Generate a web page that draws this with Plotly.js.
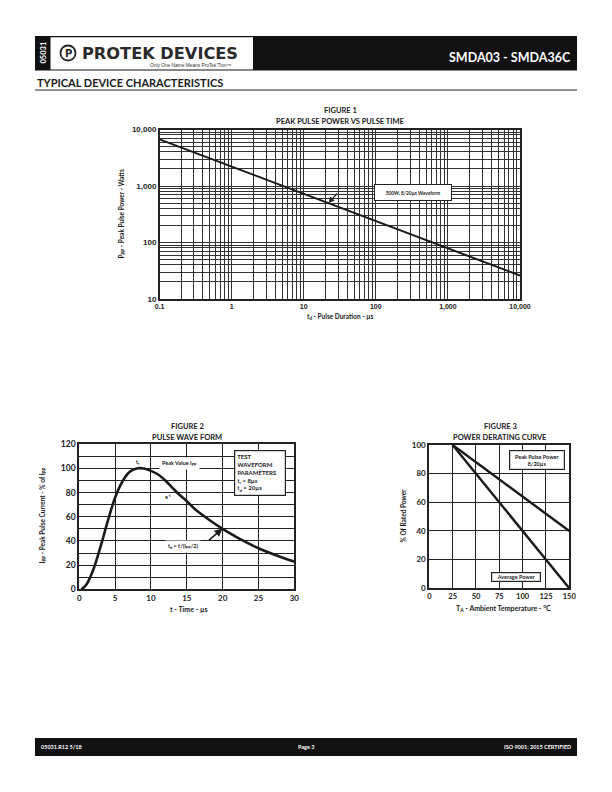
<!DOCTYPE html>
<html>
<head>
<meta charset="utf-8">
<script src="https://cdn.plot.ly/plotly-3.0.1.min.js"></script>
<style>
html,body{margin:0;padding:0;background:#fff;}
#chart{width:612px;height:792px;}
</style>
</head>
<body>
<div id="chart"></div>
<script>
// ---------- DATA ----------
// Figure 1: Peak pulse power vs pulse time
const f1Duration = [0.1, 10000];          // µs
const f1Power = [6700, 26];               // W
const f1Decades = [0.1, 1, 10, 100, 1000, 10000];
const f1DecadeLabels = ['0.1', '1', '10', '100', '1,000', '10,000'];
const f1PowerDecades = [10, 100, 1000, 10000];
const f1PowerLabels = ['10', '100', '1,000', '10,000'];

// Figure 2: Pulse wave form (8/20 µs)
const f2Time = [0.3, 1, 2, 3, 4, 5, 6, 7, 8, 9, 10, 11, 12, 13, 14, 15, 16, 18, 20, 22, 25, 28, 30];
const f2Current = [0, 4, 17, 36, 57, 76, 89, 97, 100, 100, 98, 95, 90, 84, 78, 73, 67, 58, 50, 43, 34, 27, 23];
const f2XTicks = [0, 5, 10, 15, 20, 25, 30];
const f2YTicks = [0, 20, 40, 60, 80, 100, 120];

// Figure 3: Power derating curve
const f3TempA = [25, 150];
const f3PctA = [100, 0];
const f3TempB = [25, 150];
const f3PctB = [100, 40];
const f3XTicks = [0, 25, 50, 75, 100, 125, 150];
const f3YTicks = [0, 20, 40, 60, 80, 100];

// ---------- helpers ----------
const W = 612, H = 792;
const px = x => x / W;
const py = y => 1 - y / H;

const BF = 'Lato, "Open Sans", sans-serif';
const F1F = '"Liberation Sans", Arial, sans-serif';

const traces = [
  {x: f1Duration, y: f1Power, xaxis: 'x', yaxis: 'y', mode: 'lines',
   line: {color: '#1a1a1a', width: 2}, hoverinfo: 'skip'},
  {x: f2Time, y: f2Current, xaxis: 'x2', yaxis: 'y2', mode: 'lines',
   line: {color: '#1a1a1a', width: 2.6, shape: 'spline', smoothing: 1}, hoverinfo: 'skip'},
  {x: f3TempA, y: f3PctA, xaxis: 'x3', yaxis: 'y3', mode: 'lines',
   line: {color: '#1a1a1a', width: 2.4}, hoverinfo: 'skip'},
  {x: f3TempB, y: f3PctB, xaxis: 'x3', yaxis: 'y3', mode: 'lines',
   line: {color: '#1a1a1a', width: 2.4}, hoverinfo: 'skip'}
];

const baseAxis = {
  showgrid: true, zeroline: false, showline: true, mirror: true,
  ticks: '', fixedrange: true
};

const layout = {
  width: W, height: H,
  margin: {l: 0, r: 0, t: 0, b: 0},
  paper_bgcolor: '#fff', plot_bgcolor: '#fff',
  showlegend: false,
  xaxis: Object.assign({}, baseAxis, {
    domain: [px(159.5), px(520)], anchor: 'y', type: 'log', range: [-1, 4],
    tickmode: 'array', tickvals: f1Decades, ticktext: f1DecadeLabels,
    gridcolor: '#333', gridwidth: 1, linecolor: '#222', linewidth: 1.5,
    minor: {dtick: 'D1', showgrid: true, gridcolor: '#333', gridwidth: 1, ticks: ''},
    tickfont: {family: F1F, size: 7, color: '#222', weight: 'bold'}
  }),
  yaxis: Object.assign({}, baseAxis, {
    domain: [py(299), py(129.5)], anchor: 'x', type: 'log', range: [1, 4],
    tickmode: 'array', tickvals: f1PowerDecades, ticktext: f1PowerLabels,
    gridcolor: '#333', gridwidth: 1, linecolor: '#222', linewidth: 1.5,
    minor: {dtick: 'D1', showgrid: true, gridcolor: '#333', gridwidth: 1, ticks: ''},
    tickfont: {family: F1F, size: 8, color: '#222', weight: 'bold'}
  }),
  xaxis2: Object.assign({}, baseAxis, {
    domain: [px(79.3), px(294.3)], anchor: 'y2', range: [0, 30],
    tickmode: 'array', tickvals: f2XTicks,
    gridcolor: '#222', gridwidth: 1, linecolor: '#222', linewidth: 2,
    tickfont: {family: BF, size: 8, color: '#222', weight: 'bold'}
  }),
  yaxis2: Object.assign({}, baseAxis, {
    domain: [py(589.3), py(444.3)], anchor: 'x2', range: [0, 120],
    tickmode: 'array', tickvals: f2YTicks,
    gridcolor: '#222', gridwidth: 1, linecolor: '#222', linewidth: 2,
    minor: {dtick: 10, showgrid: true, gridcolor: '#222', gridwidth: 1, ticks: ''},
    tickfont: {family: BF, size: 8.5, color: '#222', weight: 'bold'}
  }),
  xaxis3: Object.assign({}, baseAxis, {
    domain: [px(429.3), px(569.3)], anchor: 'y3', range: [0, 150],
    tickmode: 'array', tickvals: f3XTicks,
    gridcolor: '#222', gridwidth: 1, linecolor: '#222', linewidth: 2,
    tickfont: {family: BF, size: 7.5, color: '#222', weight: 'bold'}
  }),
  yaxis3: Object.assign({}, baseAxis, {
    domain: [py(588.3), py(445)], anchor: 'x3', range: [0, 100],
    tickmode: 'array', tickvals: f3YTicks,
    gridcolor: '#222', gridwidth: 1, linecolor: '#222', linewidth: 2,
    tickfont: {family: BF, size: 8, color: '#222', weight: 'bold'}
  }),
  shapes: [
    // header bar
    {type: 'rect', xref: 'paper', yref: 'paper', x0: px(35), x1: px(577), y0: py(70.5), y1: py(36),
     fillcolor: '#111', line: {width: 0}, layer: 'below'},
    {type: 'rect', xref: 'paper', yref: 'paper', x0: px(50.5), x1: px(253), y0: py(69.5), y1: py(37.2),
     fillcolor: '#fff', line: {width: 0}, layer: 'below'},
    // logo circle
    {type: 'circle', xref: 'paper', yref: 'paper', x0: px(60.5), x1: px(75.5), y0: py(60.5), y1: py(45.5),
     fillcolor: '#fff', line: {color: '#222', width: 1.8}},
    // rule under section title
    {type: 'line', xref: 'paper', yref: 'paper', x0: px(35), x1: px(577), y0: py(90), y1: py(90),
     line: {color: '#222', width: 1}},
    // footer bar
    {type: 'rect', xref: 'paper', yref: 'paper', x0: px(35), x1: px(577), y0: py(756), y1: py(738),
     fillcolor: '#111', line: {width: 0}, layer: 'below'}
  ],
  annotations: []
};

function T(text, x, y, size, opts) {
  layout.annotations.push(Object.assign({
    text: text, xref: 'paper', yref: 'paper', x: px(x), y: py(y),
    xanchor: 'center', yanchor: 'middle', showarrow: false,
    font: {family: BF, size: size, color: '#1a1a1a', weight: 'bold'}
  }, opts || {}));
}

// header texts
T('05031', 42.5, 53, 7.5, {textangle: -90, font: {family: BF, size: 7.5, color: '#fff', weight: 'bold'}});
T('P', 68, 53, 10, {font: {family: 'DejaVu Sans', size: 10, color: '#222', weight: 'bold'}});
T('PROTEK DEVICES', 79.5, 53, 16.2, {xanchor: 'left', font: {family: 'DejaVu Sans', size: 16.2, color: '#2a2a2a', weight: 'bold'}});
T('Only One Name Means ProTek\u2019Tion\u2122', 234, 65, 4.8, {xanchor: 'right', font: {family: 'Liberation Sans', size: 4.8, color: '#333'}});
T('SMDA03 - SMDA36C', 573, 57.5, 12.5, {xanchor: 'right', font: {family: BF, size: 12.5, color: '#fff', weight: 'bold'}});
T('TYPICAL DEVICE CHARACTERISTICS', 35, 82.5, 11, {xanchor: 'left', font: {family: BF, size: 11, color: '#1a1a1a', weight: 'bold'}});

// footer texts
T('05031.R12 5/18', 39, 747, 5.5, {xanchor: 'left', font: {family: BF, size: 5.5, color: '#fff', weight: 'bold'}});
T('Page 3', 306, 747, 5.5, {font: {family: BF, size: 5.5, color: '#fff', weight: 'bold'}});
T('ISO 9001: 2015 CERTIFIED', 573, 747, 5.5, {xanchor: 'right', font: {family: BF, size: 5.5, color: '#fff', weight: 'bold'}});

// Figure 1
T('FIGURE 1', 340, 110.5, 7.5);
T('PEAK PULSE POWER VS PULSE TIME', 340, 122, 7.5);
T('P<sub>PP</sub> - Peak Pulse Power - Watts', 121.5, 214, 6.5, {textangle: -90});
T('t<sub>d</sub> - Pulse Duration - \u00b5s', 340, 317, 6.5);
T('500W, 8/20\u00b5s Waveform', 413, 192.5, 4.8, {
  bgcolor: '#fff', bordercolor: '#222', borderwidth: 1, borderpad: 3, width: 70, height: 9,
  font: {family: BF, size: 4.8, color: '#222', weight: 'bold'}});
layout.annotations.push({xref: 'paper', yref: 'paper', x: px(328.5), y: py(203), ax: 10, ay: -11,
  text: '', showarrow: true, arrowhead: 2, arrowsize: 1, arrowwidth: 1.2, arrowcolor: '#222'});

// Figure 2
T('FIGURE 2', 187, 426.5, 7.5);
T('PULSE WAVE FORM', 187, 437, 7.5);
T('I<sub>PP</sub> - Peak Pulse Current - % of I<sub>PP</sub>', 42.5, 516, 6.5, {textangle: -90});
T('t - Time - \u00b5s', 189, 608.5, 7);
T('t<sub>r</sub>', 138, 462, 5.5, {font: {family: BF, size: 5.5, color: '#222', weight: 'bold'}});
T('Peak Value I<sub>PP</sub>', 179, 463.5, 5.5, {bgcolor: '#fff', borderpad: 2, font: {family: BF, size: 5.5, color: '#222', weight: 'bold'}});
T('e<sup>-t</sup>', 168, 497, 5.5, {font: {family: BF, size: 5.5, color: '#222', weight: 'bold'}});
T('TEST<br>WAVEFORM<br>PARAMETERS<br>t<sub>r</sub> = 8\u00b5s<br>t<sub>d</sub> = 20\u00b5s', 233.5, 450.5, 6, {
  xanchor: 'left', yanchor: 'top', align: 'left', valign: 'top', width: 46, height: 40,
  bgcolor: '#fff', bordercolor: '#222', borderwidth: 1.2, borderpad: 2,
  font: {family: BF, size: 6, color: '#222', weight: 'bold'}});
T('t<sub>d</sub> = t/(I<sub>PP</sub>/2)', 183, 546, 5.5, {bgcolor: '#fff', borderpad: 2, font: {family: BF, size: 5.5, color: '#222', weight: 'bold'}});
layout.annotations.push({xref: 'paper', yref: 'paper', x: px(222.5), y: py(528.5), ax: -15, ay: 13,
  text: '', showarrow: true, arrowhead: 2, arrowsize: 1, arrowwidth: 1.6, arrowcolor: '#1a1a1a'});

// Figure 3
T('FIGURE 3', 500, 426.5, 7.5);
T('POWER DERATING CURVE', 500, 437.5, 7.5);
T('% Of Rated Power', 402.5, 516, 6.5, {textangle: -90});
T('T<sub>A</sub> - Ambient Temperature - \u00b0C', 503, 608.5, 7);
T('Peak Pulse Power<br>8/20\u00b5s', 536.5, 460, 5.5, {
  bgcolor: '#fff', bordercolor: '#222', borderwidth: 1.2, borderpad: 2, width: 50, height: 14,
  font: {family: BF, size: 5.5, color: '#222', weight: 'bold'}});
T('Average Power', 516, 577, 5.5, {
  bgcolor: '#fff', bordercolor: '#222', borderwidth: 1.2, borderpad: 1, width: 46, height: 6,
  font: {family: BF, size: 5.5, color: '#222', weight: 'bold'}});

Plotly.newPlot('chart', traces, layout, {displayModeBar: false, staticPlot: true});
</script>
</body>
</html>
